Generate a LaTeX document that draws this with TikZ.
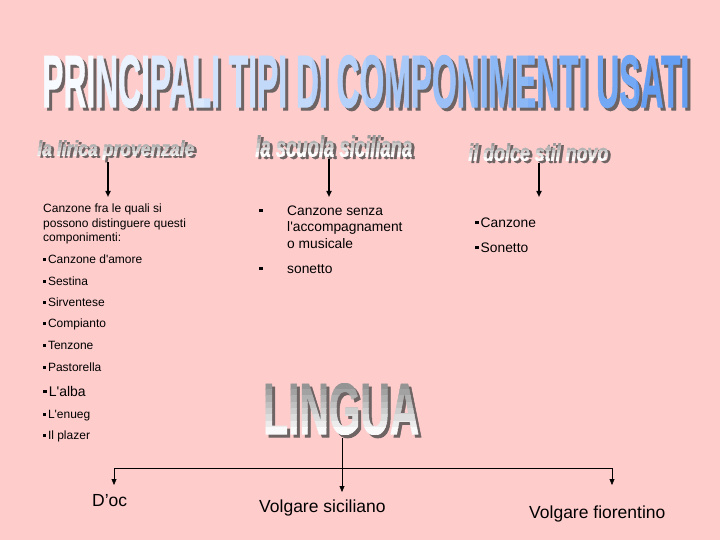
\documentclass[tikz,border=0pt]{standalone}
\usepackage{fontspec}
\setmainfont{Liberation Sans}
\newfontfamily\wafont{Liberation Sans}[FakeBold=1.2]
\usepackage{graphicx}
\usetikzlibrary{arrows.meta}

\definecolor{bgpink}{HTML}{FFCCCC}
\definecolor{wablue}{HTML}{5A98F2}
\definecolor{wagray}{HTML}{8E8E8E}
\definecolor{washadow}{HTML}{6E6464}
\newcommand\blt{\rule[0.2em]{0.25em}{0.25em}\hspace{0.15em}}

\begin{document}
\begin{tikzpicture}[x=1pt,y=-1pt,>=Stealth,
  wa/.style={anchor=north west,inner sep=0pt,font=\wafont\bfseries},
  wasub/.style={wa,font=\wafont\bfseries\itshape},
  item/.style={anchor=base west,inner sep=0pt,font=\fontsize{12}{14}\selectfont},
  bigitem/.style={item,font=\fontsize{13.8}{16}\selectfont},
  lang/.style={item,font=\fontsize{17.5}{20}\selectfont},
  arr/.style={-{Triangle[length=6pt,width=5pt]}}]
  \fill[bgpink] (0,0) rectangle (720,540);
  \useasboundingbox (0,0) rectangle (720,540);
  % title
  \node[wa,text=washadow] (title) at (45,58)
    {\resizebox{647pt}{52pt}{PRINCIPALI TIPI DI COMPONIMENTI USATI}};
  \foreach \i in {0,...,11} {
    \pgfmathsetmacro\mix{int(5+8*\i)}
    \begin{scope}
      \clip (42+54*\i,50) rectangle (96+54*\i,115);
      \node[wa,text=wablue!\mix!white] (title-\i) at (42,55)
        {\resizebox{647pt}{52pt}{PRINCIPALI TIPI DI COMPONIMENTI USATI}};
    \end{scope}
  }
  % subtitles
  \foreach \nm/\x/\y/\w/\h/\t in {lirica/37/140/157/20/la lirica provenzale,
      scuola/255/135/157/22/la scuola siciliana,
      dolce/468/143/140/18/il dolce stil novo} {
    \node[wasub,text=washadow] (\nm) at (\x+3,\y+2) {\resizebox*{\w pt}{\h pt}{\t}};
    \foreach \j in {0,...,4} {
      \pgfmathsetmacro\mix{int(90-22*\j)}
      \begin{scope}
        \clip (\x-2,\y+\j*\h/5) rectangle (\x+\w+2,\y+\j*\h/5+\h/5);
        \node[wasub,text=wagray!\mix!white] (\nm-\j) at (\x,\y) {\resizebox*{\w pt}{\h pt}{\t}};
      \end{scope}
    }
  }
  \coordinate (lir-end) at (108,197);
  \coordinate (sc-end) at (329,197);
  \coordinate (dol-end) at (539,197);
  \draw[arr,line width=1.6pt] (lirica.south -| lir-end) -- (lir-end);
  \draw[arr,line width=1.6pt] (scuola.south -| sc-end) -- (sc-end);
  \draw[arr,line width=1.6pt] (dolce.south -| dol-end) -- (dol-end);
  % la lirica provenzale
  \foreach \y/\t [count=\k] in {212.5/Canzone fra le quali si,
      227/possono distinguere questi, 241.5/componimenti:}
    \node[item] (intro-\k) at (43,\y) {\t};
  \foreach \y/\t [count=\k] in {263/Canzone d\textquotesingle amore, 285/Sestina,
      306/Sirventese, 327/Compianto, 349/Tenzone, 371/Pastorella,
      418/L\textquotesingle enueg, 439/Il plazer}
    \node[item] (prov-\k) at (43,\y) {\blt\t};
  \node[item,font=\fontsize{14}{16}\selectfont] (alba) at (43,396) {\blt L\textquotesingle alba};
  % la scuola siciliana
  \node[bigitem] (sic-b1) at (259,215) {\blt};
  \node[bigitem] (sic-1) at (287,215) {Canzone senza};
  \node[bigitem] (sic-2) at (287,232) {l\textquotesingle accompagnament};
  \node[bigitem] (sic-3) at (287,248) {o musicale};
  \node[bigitem] (sic-b2) at (259,273) {\blt};
  \node[bigitem] (sic-4) at (287,273) {sonetto};
  % il dolce stil novo
  \node[bigitem] (dol-1) at (475,227) {\blt Canzone};
  \node[bigitem] (dol-2) at (475,252) {\blt Sonetto};
  % lingua
  \node[wa,text=washadow] (lingua) at (266,386) {\resizebox{156pt}{51pt}{LINGUA}};
  \foreach \j in {0,...,7} {
    \pgfmathsetmacro\mix{int(95-13*\j)}
    \begin{scope}
      \clip (260,383+\j*6.375) rectangle (425,389.375+\j*6.375);
      \node[wa,text=wagray!\mix!white] (lingua-\j) at (263,383) {\resizebox{156pt}{51pt}{LINGUA}};
    \end{scope}
  }
  \coordinate (hub) at (342,468);
  \coordinate (doc-end) at (114,485);
  \coordinate (sicl-end) at (342,492);
  \coordinate (fio-end) at (612,485);
  \draw[arr] (lingua.south -| hub) -- (sicl-end);
  \draw[arr] (hub) -| (doc-end);
  \draw[arr] (hub) -| (fio-end);
  \node[lang] (doc) at (92,506) {D’oc};
  \node[lang] (volsic) at (259,512) {Volgare siciliano};
  \node[lang] (volfio) at (529,518) {Volgare fiorentino};
\end{tikzpicture}
\end{document}
